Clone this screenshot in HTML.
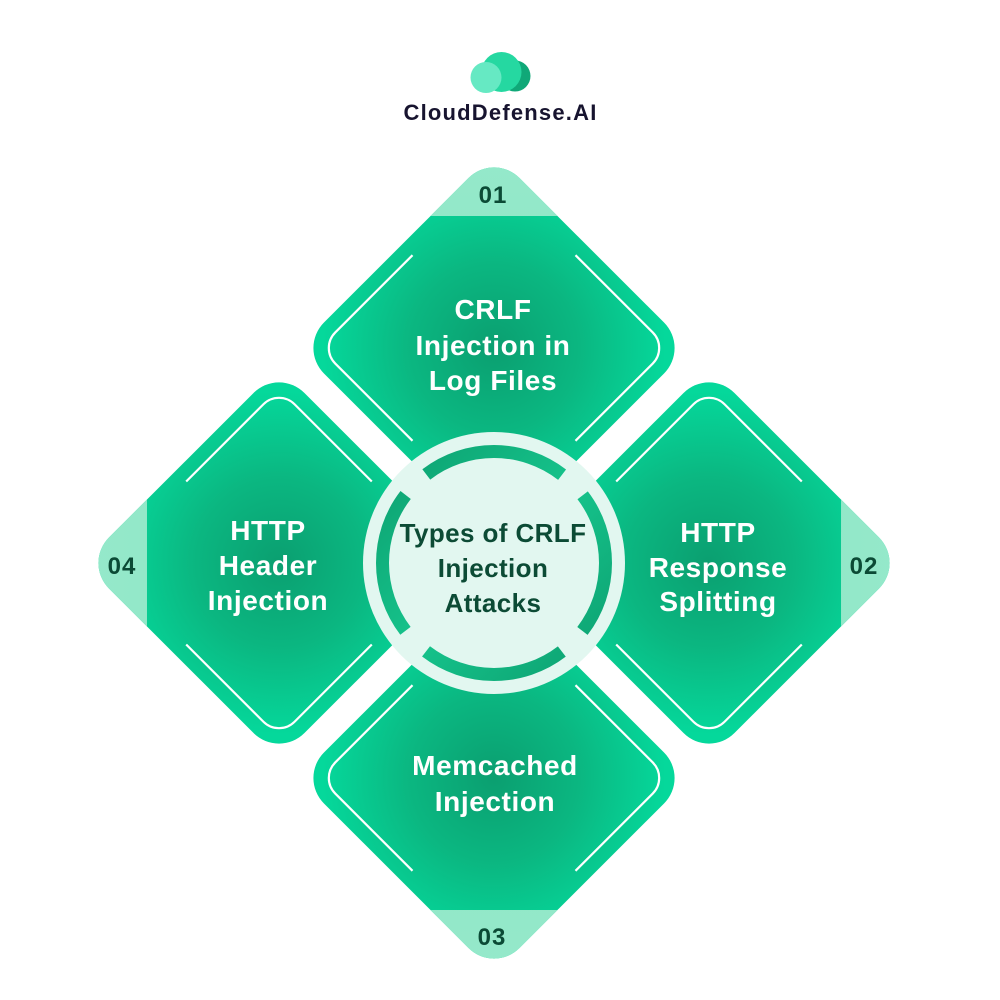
<!DOCTYPE html>
<html>
<head>
<meta charset="utf-8">
<style>
  html,body{margin:0;padding:0;background:#ffffff;}
  svg{display:block;}
  text{font-family:"Liberation Sans", Arial, sans-serif;font-weight:bold;}
</style>
</head>
<body>
<svg width="1000" height="1000" viewBox="0 0 1000 1000" xmlns="http://www.w3.org/2000/svg">
  <defs>
    <radialGradient id="dg" cx="0.5" cy="0.5" r="0.62">
      <stop offset="0" stop-color="#0b9f70"/>
      <stop offset="0.5" stop-color="#0bb781"/>
      <stop offset="1" stop-color="#05d89b"/>
    </radialGradient>
    <linearGradient id="capg" x1="0" y1="0" x2="1" y2="1">
      <stop offset="0" stop-color="#95e9ca"/>
      <stop offset="1" stop-color="#86e2c1"/>
    </linearGradient>
    <clipPath id="capclip">
      <polygon points="-150,-150 -36.7,-150 -150,-36.7"/>
    </clipPath>
    <linearGradient id="arcg" x1="0" y1="0" x2="1" y2="1">
      <stop offset="0" stop-color="#0c9f6f"/>
      <stop offset="0.5" stop-color="#16c48c"/>
      <stop offset="1" stop-color="#0c9f6f"/>
    </linearGradient>
  </defs>

  <!-- Logo -->
  <circle cx="515" cy="76" r="15.5" fill="#10a878"/>
  <circle cx="501.5" cy="72" r="20" fill="#25d8a1"/>
  <circle cx="486" cy="77.5" r="15.5" fill="#66e9c3"/>
  <text x="500.5" y="120" font-size="22" fill="#17142f" text-anchor="middle" letter-spacing="1.2">CloudDefense.AI</text>

  <!-- Top diamond -->
  <g transform="translate(494,348) rotate(45)">
    <rect x="-138.24" y="-138.24" width="276.48" height="276.48" rx="36" fill="url(#dg)"/>
    <rect x="-138.24" y="-138.24" width="276.48" height="276.48" rx="36" fill="url(#capg)" clip-path="url(#capclip)"/>
    <path d="M -8 -123.24 H 101.24 A 22 22 0 0 1 123.24 -101.24 V 8" fill="none" stroke="#ffffff" stroke-width="2.2"/>
    <path d="M 8 123.24 H -101.24 A 22 22 0 0 1 -123.24 101.24 V -8" fill="none" stroke="#ffffff" stroke-width="2.2"/>
  </g>
  <!-- Right diamond -->
  <g transform="translate(709,563) rotate(135)">
    <rect x="-138.24" y="-138.24" width="276.48" height="276.48" rx="36" fill="url(#dg)"/>
    <rect x="-138.24" y="-138.24" width="276.48" height="276.48" rx="36" fill="url(#capg)" clip-path="url(#capclip)"/>
    <path d="M -8 -123.24 H 101.24 A 22 22 0 0 1 123.24 -101.24 V 8" fill="none" stroke="#ffffff" stroke-width="2.2"/>
    <path d="M 8 123.24 H -101.24 A 22 22 0 0 1 -123.24 101.24 V -8" fill="none" stroke="#ffffff" stroke-width="2.2"/>
  </g>
  <!-- Bottom diamond -->
  <g transform="translate(494,778) rotate(225)">
    <rect x="-138.24" y="-138.24" width="276.48" height="276.48" rx="36" fill="url(#dg)"/>
    <rect x="-138.24" y="-138.24" width="276.48" height="276.48" rx="36" fill="url(#capg)" clip-path="url(#capclip)"/>
    <path d="M -8 -123.24 H 101.24 A 22 22 0 0 1 123.24 -101.24 V 8" fill="none" stroke="#ffffff" stroke-width="2.2"/>
    <path d="M 8 123.24 H -101.24 A 22 22 0 0 1 -123.24 101.24 V -8" fill="none" stroke="#ffffff" stroke-width="2.2"/>
  </g>
  <!-- Left diamond -->
  <g transform="translate(279,563) rotate(315)">
    <rect x="-138.24" y="-138.24" width="276.48" height="276.48" rx="36" fill="url(#dg)"/>
    <rect x="-138.24" y="-138.24" width="276.48" height="276.48" rx="36" fill="url(#capg)" clip-path="url(#capclip)"/>
    <path d="M -8 -123.24 H 101.24 A 22 22 0 0 1 123.24 -101.24 V 8" fill="none" stroke="#ffffff" stroke-width="2.2"/>
    <path d="M 8 123.24 H -101.24 A 22 22 0 0 1 -123.24 101.24 V -8" fill="none" stroke="#ffffff" stroke-width="2.2"/>
  </g>

  <!-- Center circle -->
  <circle cx="494" cy="563" r="131" fill="#e2f7f0"/>
  <circle cx="494" cy="563" r="111.5" fill="none" stroke="url(#arcg)" stroke-width="13"
          stroke-dasharray="145.96 29.19" stroke-dashoffset="72.97"/>

  <!-- Numbers -->
  <g fill="#0b4a35" font-size="24" text-anchor="middle" letter-spacing="1">
    <text x="493" y="203">01</text>
    <text x="864" y="574">02</text>
    <text x="492" y="945">03</text>
    <text x="122" y="574">04</text>
  </g>

  <!-- Diamond labels -->
  <g fill="#ffffff" font-size="28" text-anchor="middle" letter-spacing="0.6">
    <text x="493" y="319">CRLF</text>
    <text x="493" y="355">Injection in</text>
    <text x="493" y="390">Log Files</text>

    <text x="268" y="540">HTTP</text>
    <text x="268" y="575">Header</text>
    <text x="268" y="610">Injection</text>

    <text x="718" y="542">HTTP</text>
    <text x="718" y="577">Response</text>
    <text x="718" y="611">Splitting</text>

    <text x="495" y="775">Memcached</text>
    <text x="495" y="811">Injection</text>
  </g>

  <!-- Center title -->
  <g fill="#0c4b35" font-size="26" text-anchor="middle" letter-spacing="0.4">
    <text x="493" y="542">Types of CRLF</text>
    <text x="493" y="577">Injection</text>
    <text x="493" y="612">Attacks</text>
  </g>
</svg>
</body>
</html>
